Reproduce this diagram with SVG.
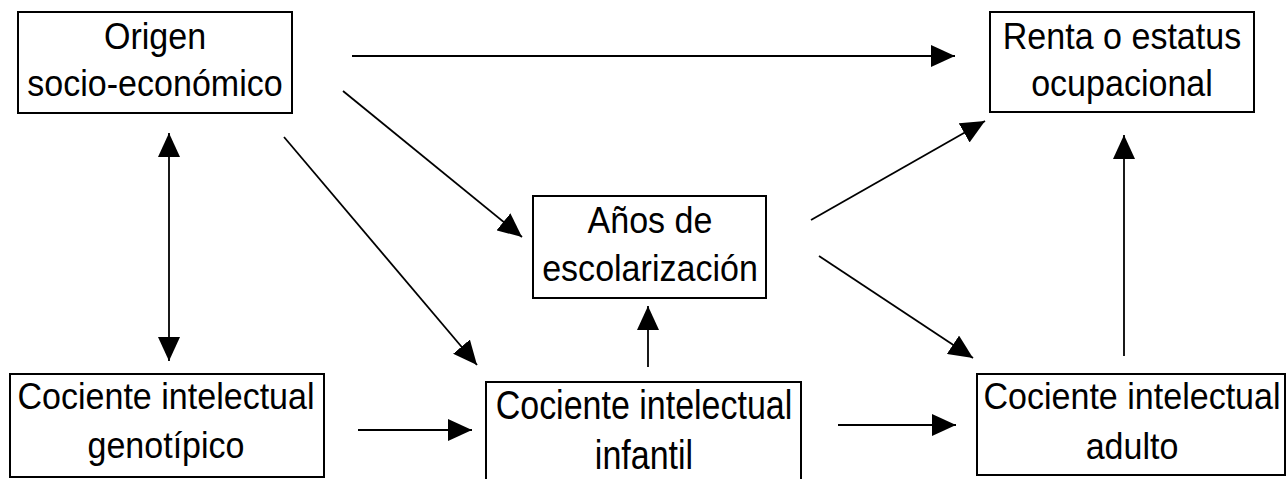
<svg xmlns="http://www.w3.org/2000/svg" width="1288" height="479" viewBox="0 0 1288 479">
<style>
.box{fill:#fff;stroke:#000;stroke-width:2}
.lbl{font-family:"Liberation Sans",Arial,sans-serif;font-size:37px;fill:#000;text-anchor:middle}
.tall{font-size:40px}
.c{stroke:#000;stroke-width:1.8;fill:none;marker-end:url(#ah)}
</style>
<defs>
<marker id="ah" markerUnits="userSpaceOnUse" viewBox="0 0 24 22" refX="24" refY="11" markerWidth="24" markerHeight="22" orient="auto-start-reverse">
<path d="M0,0 L24,11 L0,22 Z" fill="#000"/>
</marker>
</defs>
<rect width="1288" height="479" fill="#fff"/>
<g id="connectors">
<line class="c" x1="352" y1="56" x2="955" y2="56"/>
<line class="c" x1="343" y1="91" x2="522" y2="237"/>
<line class="c" x1="284" y1="137" x2="477" y2="365"/>
<line class="c" x1="169" y1="133" x2="169" y2="361" marker-start="url(#ah)"/>
<line class="c" x1="358" y1="430" x2="472" y2="430"/>
<line class="c" x1="648" y1="367" x2="648" y2="306"/>
<line class="c" x1="811" y1="220" x2="985" y2="121"/>
<line class="c" x1="819" y1="256" x2="973" y2="358"/>
<line class="c" x1="838" y1="425" x2="956" y2="425"/>
<line class="c" x1="1124" y1="356" x2="1124" y2="135"/>
</g>
<g id="origen">
<rect class="box" x="18" y="12" width="274" height="101"/>
<text class="lbl" transform="translate(155,49) scale(0.92,1)">Origen</text>
<text class="lbl" transform="translate(155,96) scale(0.92,1)">socio-económico</text>
</g>
<g id="renta">
<rect class="box" x="990" y="12" width="264" height="100"/>
<text class="lbl" transform="translate(1122,49) scale(0.92,1)">Renta o estatus</text>
<text class="lbl" transform="translate(1122,96) scale(0.92,1)">ocupacional</text>
</g>
<g id="anos">
<rect class="box" x="533" y="196" width="233" height="102"/>
<text class="lbl" transform="translate(650,233) scale(0.92,1)">Años de</text>
<text class="lbl" transform="translate(650,281) scale(0.92,1)">escolarización</text>
</g>
<g id="genotipico">
<rect class="box" x="10" y="374" width="314" height="103"/>
<text class="lbl" transform="translate(166,409) scale(0.92,1)">Cociente intelectual</text>
<text class="lbl" transform="translate(166,458) scale(0.92,1)">genotípico</text>
</g>
<g id="infantil">
<rect class="box" x="486" y="382" width="315" height="110"/>
<text class="lbl tall" transform="translate(644,419) scale(0.85,1)">Cociente intelectual</text>
<text class="lbl tall" transform="translate(644,469) scale(0.85,1)">infantil</text>
</g>
<g id="adulto">
<rect class="box" x="977" y="374" width="308" height="101"/>
<text class="lbl" transform="translate(1132,409) scale(0.92,1)">Cociente intelectual</text>
<text class="lbl" transform="translate(1132,459) scale(0.92,1)">adulto</text>
</g>
</svg>
